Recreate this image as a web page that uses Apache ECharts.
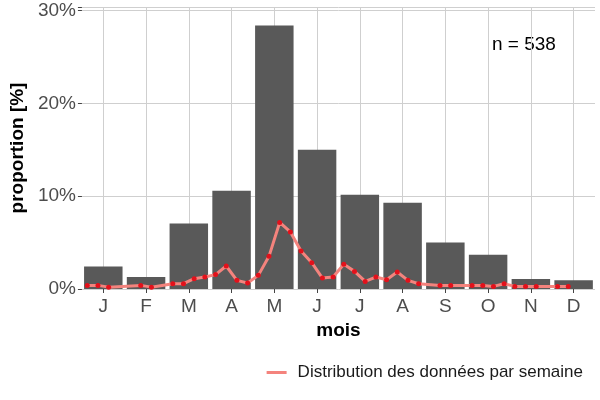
<!DOCTYPE html>
<html>
<head>
<meta charset="utf-8">
<script src="https://cdn.jsdelivr.net/npm/echarts@6/dist/echarts.min.js"></script>
<style>
html,body{margin:0;padding:0;background:#fff;}
#c{width:600px;height:400px;}
</style>
</head>
<body>
<div id="c"></div>
<script>
// ---- data ----
const months = ['J','F','M','A','M','J','J','A','S','O','N','D'];
const monthlyProportion = [2.42, 1.30, 7.07, 10.6, 28.4, 15.0, 10.16, 9.3, 5.0, 3.7, 1.08, 0.94];
// weekly distribution (4 slots per month), null = no data that week
const weeklyProportion = [
  0.39, 0.39, 0.20, null,
  null, 0.39, 0.20, null,
  0.57, 0.57, 1.11, 1.29,
  1.55, 2.48, 0.93, 0.64,
  1.47, 3.52, 7.17, 6.15,
  4.10, 2.84, 1.18, 1.29,
  2.66, 1.90, 0.82, 1.29,
  1.00, 1.83, 0.93, 0.57,
  null, 0.39, 0.39, null,
  0.39, 0.39, 0.28, 0.57,
  0.28, 0.28, 0.28, null,
  0.28, 0.28, null, null
];
const weekSlots = weeklyProportion.map((_, i) => 'w' + (i + 1));
const yTicks = [0, 10, 20, 30];
const nTotal = 538;
const lineName = 'Distribution des données par semaine';

const chart = echarts.init(document.getElementById('c'), null, {renderer: 'canvas'});
const FONT = 'Liberation Sans, Arial, Helvetica, sans-serif';
const GRID = '#cfcfcf';

chart.setOption({
  animation: false,
  backgroundColor: '#ffffff',
  textStyle: {fontFamily: FONT},
  grid: {left: 74, right: 5, top: 7, bottom: 111, containLabel: false},
  xAxis: [
    {
      type: 'category',
      data: months,
      boundaryGap: true,
      name: 'mois',
      nameLocation: 'middle',
      nameGap: 30,
      nameTextStyle: {fontSize: 19, fontWeight: 'bold', color: '#000', fontFamily: FONT},
      axisLine: {show: false},
      axisTick: {show: true, alignWithLabel: true, length: 4, lineStyle: {color: '#444', width: 1}},
      axisLabel: {fontSize: 19, color: '#4d4d4d', margin: 8, interval: 0, fontFamily: FONT},
      splitLine: {show: true, alignWithLabel: true, lineStyle: {color: GRID, width: 1}}
    },
    {
      type: 'category',
      data: weekSlots,
      boundaryGap: true,
      show: false
    }
  ],
  yAxis: {
    type: 'value',
    min: 0,
    max: 30.4,
    interval: 10,
    name: 'proportion [%]',
    nameLocation: 'middle',
    nameGap: 47,
    nameTextStyle: {fontSize: 19, fontWeight: 'bold', color: '#000', fontFamily: FONT},
    axisLine: {show: false},
    axisTick: {show: true, length: 4, lineStyle: {color: '#444', width: 1}},
    axisLabel: {
      fontSize: 19, color: '#4d4d4d', margin: 6, fontFamily: FONT,
      formatter: v => (yTicks.indexOf(v) >= 0 ? v + '%' : '')
    },
    splitLine: {show: true, lineStyle: {color: GRID, width: 1}}
  },
  legend: {
    data: [{name: lineName, icon: 'rect', itemStyle: {color: '#f4837d'}}],
    right: 12,
    top: 359,
    itemWidth: 20,
    itemHeight: 3,
    textStyle: {fontSize: 17, color: '#1a1a1a', fontFamily: FONT, padding: [0, 0, 0, 6]},
    selectedMode: false
  },
  graphic: [{
    type: 'text',
    left: 492,
    top: 35,
    style: {text: 'n = ' + nTotal, font: '19px ' + FONT, fill: '#000'}
  }],
  series: [
    {
      type: 'bar',
      name: 'mois',
      data: monthlyProportion,
      barWidth: '90%',
      itemStyle: {color: '#595959'},
      z: 2
    },
    {
      type: 'line',
      name: lineName,
      xAxisIndex: 1,
      data: weeklyProportion,
      connectNulls: true,
      symbol: 'circle',
      symbolSize: 5,
      showSymbol: true,
      itemStyle: {color: '#e3111b'},
      lineStyle: {color: '#f4837d', width: 3},
      z: 5
    }
  ]
});
</script>
</body>
</html>
